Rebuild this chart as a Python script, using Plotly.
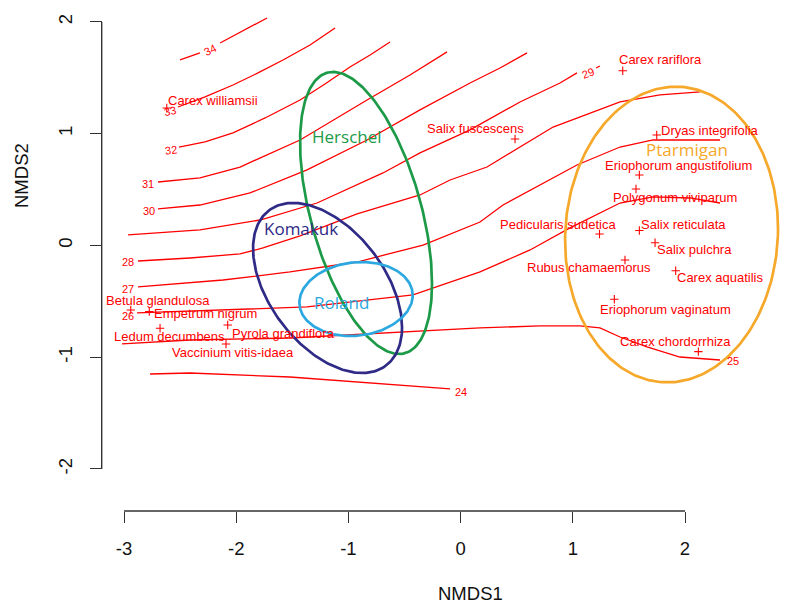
import numpy as np
import plotly.graph_objects as go

# ---------------- data ----------------
species = ["Carex williamsii", "Carex rariflora", "Salix fuscescens", "Dryas integrifolia",
           "Eriophorum angustifolium", "Polygonum viviparum", "Pedicularis sudetica",
           "Salix reticulata", "Salix pulchra", "Rubus chamaemorus", "Carex aquatilis",
           "Eriophorum vaginatum", "Carex chordorrhiza", "Betula glandulosa", "Empetrum nigrum",
           "Ledum decumbens", "Pyrola grandiflora", "Vaccinium vitis-idaea"]
species_x = [-2.619, 1.445, 0.485, 1.748, 1.593, 1.563, 1.238, 1.593, 1.733, 1.465,
             1.917, 1.370, 2.119, -2.940, -2.775, -2.679, -2.076, -2.091]
species_y = [1.230, 1.564, 0.953, 0.989, 0.631, 0.506, 0.103, 0.134, 0.025, -0.130,
             -0.226, -0.481, -0.950, -0.577, -0.592, -0.741, -0.711, -0.881]

sites = ["Herschel", "Komakuk", "Roland", "Ptarmigan"]
site_cx = [-0.843, -1.186, -0.932, 1.880]
site_cy = [0.291, -0.380, -0.479, 0.098]
site_sx = [0.588, 0.664, 0.505, 0.949]
site_sy = [1.262, 0.761, 0.331, 1.323]
site_rho = [-0.50, -0.463, 0.10, 0.04]
site_label_x = [-1.010, -1.420, -1.060, 2.021]
site_label_y = [0.974, 0.154, -0.508, 0.855]

contour_levels = [24, 25, 26, 27, 28, 29, 30, 31, 32, 33, 34]
contour_x = [
    [-2.768, -2.412, -1.521, -0.629, -0.094],
    [-3.018, -2.412, -1.521, -0.629, 0.173, 0.708, 1.064, 1.242, 1.421, 1.661, 1.955, 2.312],
    [-2.884, -2.118, -1.369, -0.424, 0.173, 0.619, 0.975, 1.421, 1.715, 2.045, 2.312],
    [-2.875, -2.118, -1.521, -0.923, -0.335, 0.173, 0.378, 0.708, 1.037, 1.421, 1.715, 2.312],
    [-2.875, -2.412, -1.966, -1.761, -1.431, -0.923, -0.362, -0.094, 0.235, 0.824, 1.421, 1.777, 2.134],
    [-2.964, -2.323, -1.788, -1.280, -0.692, -0.362, 0.084, 0.529, 0.886, 1.037, None, 1.207, 1.242],
    [-2.697, -2.323, -1.877, -1.369, -0.834, -0.362, 0.084, 0.351, 0.592],
    [-2.697, -2.323, -1.966, -1.431, -0.834, -0.451, -0.121],
    [-2.510, -2.278, -2.029, -1.743, -1.431, -1.209, -0.986, -0.807, -0.629],
    [-2.519, -2.278, -2.029, -1.806, -1.583, -1.342, -1.119],
    [-2.501, -2.323, None, -2.144, -1.922, -1.725],
]
contour_y = [
    [-1.150, -1.141, -1.177, -1.248, -1.284],
    [-0.881, -0.846, -0.828, -0.783, -0.738, -0.720, -0.720, -0.738, -0.819, -0.908, -0.998, -1.025],
    [-0.604, -0.577, -0.550, -0.443, -0.237, -0.040, 0.157, 0.380, 0.434, 0.425, 0.380],
    [-0.371, -0.309, -0.237, -0.148, 0.004, 0.210, 0.362, 0.541, 0.720, 0.881, 0.944, 0.944],
    [-0.139, -0.112, -0.076, -0.022, 0.085, 0.282, 0.452, 0.586, 0.702, 1.060, 1.284, 1.347, 1.374],
    [0.094, 0.139, 0.228, 0.380, 0.649, 0.828, 1.034, 1.284, 1.454, 1.544, None, 1.588, 1.606],
    [0.327, 0.362, 0.470, 0.676, 0.944, 1.213, 1.454, 1.588, 1.723],
    [0.568, 0.604, 0.702, 0.944, 1.302, 1.526, 1.732],
    [0.881, 0.926, 1.007, 1.141, 1.302, 1.445, 1.597, 1.705, 1.821],
    [1.239, 1.329, 1.436, 1.544, 1.660, 1.794, 1.946],
    [1.660, 1.723, None, 1.812, 1.928, 2.036],
]
contour_label_x = [0.002, 2.428, -2.966, -2.962, -2.962, 1.138, -2.779, -2.783, -2.583, -2.586, -2.233]
contour_label_y = [-1.315, -1.034, -0.633, -0.392, -0.150, 1.546, 0.306, 0.552, 0.855, 1.201, 1.749]

x_ticks = [-3, -2, -1, 0, 1, 2]
x_tick_text = ["-3", "-2", "-1", "0", "1", "2"]
y_ticks = [-2, -1, 0, 1, 2]
y_tick_text = ["-2", "-1", "0", "1", "2"]

# ---------------- styles / layout ----------------
# the page body adds an 8px margin, so the figure is 8px smaller and all
# pixel targets are measured from (8, 8)
OFF = 8
W, H = 788 - OFF, 606 - OFF
X_DOM0 = (101.7 - OFF) / W
Y_DOM0 = (H - (511 - OFF)) / H
X_RANGE = [-3.199, 2.918]
Y_RANGE = [-2.376, 2.125]

RED = "#FF0000"
site_colors = ["#1C9A48", "#2E2A86", "#2BA8E0", "#F6A82A"]
label_dx = [46, 38, -40, 53, 39, 39, -42, 44, 39, -36, 44, 51, -23, 27, 56, 9, 56, 7]
label_dy = [-8, -11, -10, -4, -9, 9, -9, -6, 7, 7, 7, 10, -10, -9, 2, 8, 9, 9]
contour_label_angle = [0, 0, 0, 0, 0, -20, 0, 0, -8, -12, -27]
FONT = "Liberation Sans, Arial, Helvetica, sans-serif"

fig = go.Figure()

for lev, cx, cy in zip(contour_levels, contour_x, contour_y):
    fig.add_trace(go.Scatter(x=cx, y=cy, mode="lines", line=dict(color=RED, width=1.3),
                             connectgaps=False, hoverinfo="skip", name=str(lev)))

t = np.linspace(0, 2 * np.pi, 240)
for name, cx, cy, sx, sy, rho, col in zip(sites, site_cx, site_cy, site_sx, site_sy, site_rho, site_colors):
    ex = cx + sx * np.cos(t)
    ey = cy + sy * (rho * np.cos(t) + np.sqrt(1 - rho ** 2) * np.sin(t))
    fig.add_trace(go.Scatter(x=ex, y=ey, mode="lines", line=dict(color=col, width=2.7),
                             hoverinfo="skip", name=name))

fig.add_trace(go.Scatter(x=species_x, y=species_y, mode="markers", text=species,
                         marker=dict(symbol="cross-thin", size=6, line=dict(color=RED, width=1.1)),
                         name="species"))

ann = []
for s, x, y, dx, dy in zip(species, species_x, species_y, label_dx, label_dy):
    ann.append(dict(x=x, y=y, xref="x", yref="y", text=s, showarrow=False,
                    xshift=dx, yshift=-dy, xanchor="center", yanchor="middle",
                    font=dict(family=FONT, size=13, color=RED)))
for lev, x, y, a in zip(contour_levels, contour_label_x, contour_label_y, contour_label_angle):
    ann.append(dict(x=x, y=y, xref="x", yref="y", text=str(lev), showarrow=False,
                    textangle=a, xanchor="center", yanchor="middle",
                    font=dict(family=FONT, size=11, color=RED)))
for s, x, y, col in zip(sites, site_label_x, site_label_y, site_colors):
    ann.append(dict(x=x, y=y, xref="x", yref="y", text=s, showarrow=False,
                    xanchor="center", yanchor="middle",
                    font=dict(family="Open Sans, sans-serif", size=17, color=col)))
ann.append(dict(x=(470.7 - OFF) / W, y=1 - (593 - OFF) / H, xref="paper", yref="paper", text="NMDS1",
                showarrow=False, xanchor="center", yanchor="middle",
                font=dict(family=FONT, size=18.5, color="#111")))
ann.append(dict(x=(21.5 - OFF) / W, y=1 - (175.5 - OFF) / H, xref="paper", yref="paper", text="NMDS2",
                showarrow=False, textangle=-90, xanchor="center", yanchor="middle",
                font=dict(family=FONT, size=18.5, color="#111")))

shapes = [
    dict(type="line", xref="x", yref="paper", x0=x_ticks[0], x1=x_ticks[-1], y0=Y_DOM0, y1=Y_DOM0,
         line=dict(color="#333", width=1.4)),
    dict(type="line", xref="paper", yref="y", x0=X_DOM0, x1=X_DOM0, y0=y_ticks[0], y1=y_ticks[-1],
         line=dict(color="#333", width=1.4)),
]

fig.update_layout(
    width=W, height=H, margin=dict(l=0, r=0, t=0, b=0),
    paper_bgcolor="white", plot_bgcolor="white", showlegend=False,
    annotations=ann, shapes=shapes,
    xaxis=dict(domain=[X_DOM0, 1], range=X_RANGE, anchor="free", position=Y_DOM0,
               showgrid=False, zeroline=False, showline=False,
               tickmode="array", tickvals=x_ticks, ticktext=x_tick_text,
               ticks="outside", ticklen=11, tickwidth=1.4, tickcolor="#333",
               ticklabelstandoff=10,
               tickfont=dict(family=FONT, size=18.5, color="#111")),
    yaxis=dict(domain=[Y_DOM0, 1], range=Y_RANGE, anchor="free", position=X_DOM0,
               showgrid=False, zeroline=False, showline=False,
               tickmode="array", tickvals=y_ticks, ticktext=y_tick_text,
               ticks="outside", ticklen=12, tickwidth=1.4, tickcolor="#333",
               tickangle=-90, ticklabelstandoff=10,
               tickfont=dict(family=FONT, size=18.5, color="#111")),
)

fig.write_html("out.html")
